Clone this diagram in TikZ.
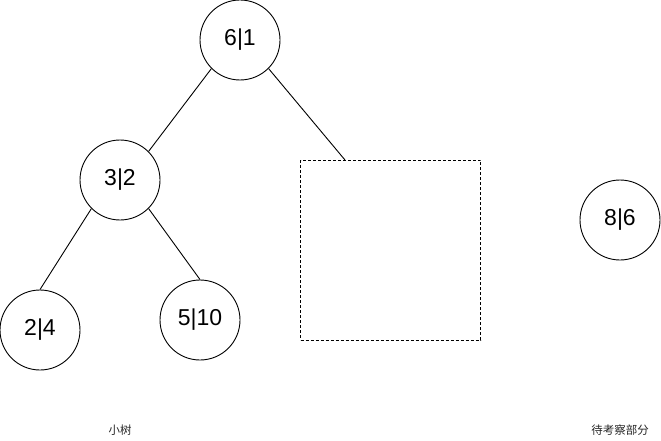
\documentclass[tikz,border=0pt]{standalone}
\usepackage{fontspec}
\setmainfont{Liberation Sans}
\newfontfamily\cjk{Noto Sans CJK SC}
\begin{document}
\begin{tikzpicture}[x=1pt,y=-1pt,
  treenode/.style={circle,draw=black,line width=0.9pt,minimum size=80pt,inner sep=0pt,font=\fontsize{23}{26}\selectfont},
  edge/.style={draw=black,line width=0.9pt},
  dashbox/.style={draw=black,line width=0.9pt,dash pattern=on 3pt off 2pt},
  caption/.style={font=\cjk\fontsize{11.5}{13}\selectfont,text=black!85,inner sep=0pt}]
\useasboundingbox (0,0) rectangle (661,441);
\node[treenode] (n61) at (240,40) {6|1};
\node[treenode] (n32) at (120,180) {3|2};
\node[treenode] (n24) at (40,330) {2|4};
\node[treenode] (n510) at (200,320) {5|10};
\node[treenode] (n86) at (620,220) {8|6};
\node[dashbox,minimum width=180pt,minimum height=180pt,inner sep=0pt] (box) at (390.5,250) {};
\coordinate (boxtop) at (345,160);
\draw[edge] (n61.south west) -- (n32.north east);
\draw[edge] (n61.south east) -- (boxtop);
\draw[edge] (n32.south west) -- (n24.north);
\draw[edge] (n32.south east) -- (n510.north);
\node[caption] (cap1) at (120,430) {小树};
\node[caption] (cap2) at (620,430) {待考察部分};
\end{tikzpicture}
\end{document}
